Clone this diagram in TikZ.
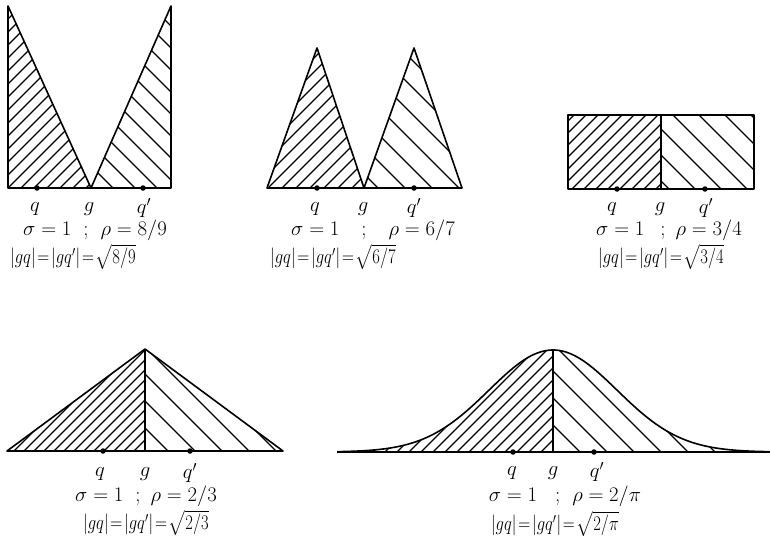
\documentclass[tikz,border=0pt]{standalone}
\usepackage{amsmath}
\usepackage{graphicx}
\newcommand{\narrow}[1]{\scalebox{0.8}[1]{#1}}
\begin{document}
\begin{tikzpicture}[x=1pt,y=-1pt,
  outline/.style={line width=1.6pt, line join=round},
  hatch/.style={line width=1.1pt},
  dotmark/.style={circle, fill=black, inner sep=0pt, minimum size=5.5pt},
  lbl/.style={inner sep=0pt, font=\fontsize{20.74}{24}\selectfont},
  declare function={gy(\t)=452-102*exp(-0.5*((\t-553)/64)*((\t-553)/64));},
]
\useasboundingbox (0,0) rectangle (770,554);

% ---------- Figure 1 ----------
\begin{scope}
\clip (8,6) -- (8,188) -- (91,188) -- cycle;
\foreach \c in {27,40,...,279} \draw[hatch] ({\c-600},600) -- ({\c+100},-100);
\end{scope}
\begin{scope}
\clip (91,188) -- (171,6) -- (171,188) -- cycle;
\foreach \c in {-75,-53,...,165} \draw[hatch] ({\c-100},-100) -- ({\c+600},600);
\end{scope}
\draw[outline] (8,188) -- (8,6) -- (91,188) -- (171,6) -- (171,188) -- cycle;
\node[dotmark] (d1q) at (37,188) {};
\node[dotmark] (d1p) at (143,188) {};
\node[lbl] (l1q) at (35,209) {$q$};
\node[lbl] (l1g) at (89,209) {$g$};
\node[lbl] (l1p) at (144,208) {$q'$};
\node[lbl] (l1s) at (95,230) {$\sigma = 1$\hspace{12pt};\hspace{12pt}$\rho = 8/9$};
\node[lbl] (l1r) at (73,257) {\narrow{$|gq| \!=\! |gq'| \!=\! \sqrt{8/9}$}};

% ---------- Figure 2 ----------
\begin{scope}
\clip (267,188) -- (317,48) -- (364,188) -- cycle;
\foreach \c in {372,386,...,552} \draw[hatch] ({\c-600},600) -- ({\c+100},-100);
\end{scope}
\begin{scope}
\clip (364,188) -- (414,48) -- (462,188) -- cycle;
\foreach \c in {190,217,...,366} \draw[hatch] ({\c-100},-100) -- ({\c+600},600);
\end{scope}
\draw[outline] (267,188) -- (317,48) -- (364,188) -- (414,48) -- (462,188) -- cycle;
\node[dotmark] (d2q) at (317,188) {};
\node[dotmark] (d2p) at (414,188) {};
\node[lbl] (l2q) at (315,209) {$q$};
\node[lbl] (l2g) at (363,209) {$g$};
\node[lbl] (l2p) at (414,208) {$q'$};
\node[lbl] (l2s) at (373,230) {$\sigma = 1$\hspace{22pt};\hspace{22pt}$\rho = 6/7$};
\node[lbl] (l2r) at (333,257) {\narrow{$|gq| \!=\! |gq'| \!=\! \sqrt{6/7}$}};

% ---------- Figure 3 ----------
\begin{scope}
\clip (568,115) rectangle (661,189);
\foreach \c in {689,701,...,850} \draw[hatch] ({\c-600},600) -- ({\c+100},-100);
\end{scope}
\begin{scope}
\clip (661,115) rectangle (754,189);
\foreach \c in {480,506,...,639} \draw[hatch] ({\c-100},-100) -- ({\c+600},600);
\end{scope}
\draw[outline] (568,115) rectangle (754,189);
\draw[outline] (661,115) -- (661,189);
\node[dotmark] (d3q) at (617,189) {};
\node[dotmark] (d3p) at (705,189) {};
\node[lbl] (l3q) at (612,209) {$q$};
\node[lbl] (l3g) at (660,209) {$g$};
\node[lbl] (l3p) at (706,208) {$q'$};
\node[lbl] (l3s) at (669,230) {$\sigma = 1$\hspace{16pt};\hspace{10pt}$\rho = 3/4$};
\node[lbl] (l3r) at (661,257) {\narrow{$|gq| \!=\! |gq'| \!=\! \sqrt{3/4}$}};

% ---------- Figure 4 ----------
\begin{scope}
\clip (7,451) -- (145,349) -- (145,451) -- cycle;
\foreach \c in {465,475,...,596} \draw[hatch] ({\c-600},600) -- ({\c+100},-100);
\end{scope}
\begin{scope}
\clip (145,349) -- (283,451) -- (145,451) -- cycle;
\foreach \c in {-283,-256,...,-168} \draw[hatch] ({\c-100},-100) -- ({\c+600},600);
\end{scope}
\draw[outline] (7,451) -- (145,349) -- (283,451) -- cycle;
\draw[outline] (145,349) -- (145,451);
\node[dotmark] (d4q) at (103,451) {};
\node[dotmark] (d4p) at (190,451) {};
\node[lbl] (l4q) at (100,474) {$q$};
\node[lbl] (l4g) at (145,474) {$g$};
\node[lbl] (l4p) at (190,473) {$q'$};
\node[lbl] (l4s) at (146,496) {$\sigma = 1$\hspace{12pt};\hspace{10pt}$\rho = 2/3$};
\node[lbl] (l4r) at (146,523) {\narrow{$|gq| \!=\! |gq'| \!=\! \sqrt{2/3}$}};

% ---------- Figure 5 ----------
\begin{scope}
\clip (337,452) -- plot[domain=337:553,samples=80] (\x,{gy(\x)}) -- (553,452) -- cycle;
\foreach \c in {789,801,...,1005} \draw[hatch] ({\c-600},600) -- ({\c+100},-100);
\end{scope}
\begin{scope}
\clip (553,452) -- plot[domain=553:770,samples=80] (\x,{gy(\x)}) -- (770,452) -- cycle;
\foreach \c in {101,128,...,318} \draw[hatch] ({\c-100},-100) -- ({\c+600},600);
\end{scope}
\draw[outline] plot[domain=337:770,samples=160] (\x,{gy(\x)});
\draw[outline] (337,452) -- (770,452);
\draw[outline] (553,350) -- (553,452);
\node[dotmark] (d5q) at (513,452) {};
\node[dotmark] (d5p) at (594,452) {};
\node[lbl] (l5q) at (512,473) {$q$};
\node[lbl] (l5g) at (553,473) {$g$};
\node[lbl] (l5p) at (597,472) {$q'$};
\node[lbl] (l5s) at (565,496) {$\sigma = 1$\hspace{18pt};\hspace{12pt}$\rho = 2/\pi$};
\node[lbl] (l5r) at (555,524) {\narrow{$|gq| \!=\! |gq'| \!=\! \sqrt{2/\pi}$}};
\end{tikzpicture}
\end{document}
